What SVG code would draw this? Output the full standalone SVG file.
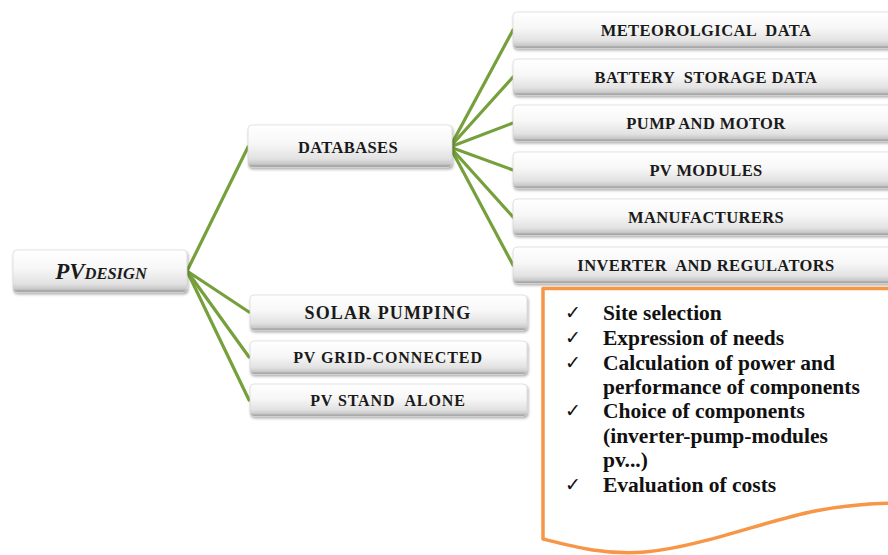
<svg xmlns="http://www.w3.org/2000/svg" width="888" height="555" viewBox="0 0 888 555">
<defs>
<linearGradient id="boxg" x1="0" y1="0" x2="0" y2="1">
<stop offset="0" stop-color="#ffffff"/>
<stop offset="0.45" stop-color="#f7f7f7"/>
<stop offset="0.8" stop-color="#e2e2e2"/>
<stop offset="0.93" stop-color="#c8c8c8"/>
<stop offset="1" stop-color="#8c8c8c"/>
</linearGradient>
<filter id="sh" x="-5%" y="-20%" width="110%" height="150%">
<feGaussianBlur in="SourceAlpha" stdDeviation="1.5"/>
<feOffset dx="1" dy="2" result="b"/>
<feComponentTransfer><feFuncA type="linear" slope="0.35"/></feComponentTransfer>
<feMerge><feMergeNode/><feMergeNode in="SourceGraphic"/></feMerge>
</filter>
</defs>
<style>
.box{fill:url(#boxg);stroke:#d0d0d0;stroke-width:0.6;filter:url(#sh)}
.lbl{font-family:"Liberation Serif","Times New Roman",serif;font-weight:bold;fill:#1a1a1a;text-anchor:middle}
.s16{font-size:16.5px;letter-spacing:0.4px}
.s15{font-size:16px;letter-spacing:0.9px}
.s17{font-size:18px;letter-spacing:1.1px}
.con{stroke:#76a03c;stroke-width:3.2;fill:none;stroke-linecap:round}
.item{font-family:"Liberation Serif","Times New Roman",serif;font-weight:bold;font-size:21.5px;fill:#111}
.chk{font-family:"DejaVu Sans",sans-serif;font-size:19px;fill:#111}
</style>

<g id="connectors">
<line class="con" x1="187" y1="271" x2="248" y2="147"/>
<line class="con" x1="187" y1="271" x2="249" y2="312"/>
<line class="con" x1="187" y1="271" x2="249" y2="357"/>
<line class="con" x1="187" y1="271" x2="249" y2="400"/>
<line class="con" x1="450" y1="147" x2="513" y2="30"/>
<line class="con" x1="450" y1="147" x2="513" y2="77"/>
<line class="con" x1="450" y1="147" x2="513" y2="123"/>
<line class="con" x1="450" y1="147" x2="513" y2="170"/>
<line class="con" x1="450" y1="147" x2="513" y2="217"/>
<line class="con" x1="450" y1="147" x2="513" y2="265"/>
</g>

<g id="pvdesign">
<rect class="box" x="13" y="250" width="174" height="42" rx="4"/>
<text class="lbl" x="101" y="279" font-style="italic"><tspan font-size="23px">PV</tspan><tspan font-size="16.5px">DESIGN</tspan></text>
</g>
<g id="databases">
<rect class="box" x="248" y="125" width="204" height="42" rx="4"/>
<text class="lbl s16" x="348" y="153">DATABASES</text>
</g>
<g id="meteo">
<rect class="box" x="513" y="12" width="395" height="36" rx="4"/>
<text class="lbl s16" x="706" y="36" xml:space="preserve">METEOROLGICAL  DATA</text>
</g>
<g id="battery">
<rect class="box" x="513" y="59" width="395" height="36" rx="4"/>
<text class="lbl s16" x="706" y="83" xml:space="preserve">BATTERY  STORAGE DATA</text>
</g>
<g id="pump">
<rect class="box" x="513" y="105" width="395" height="36" rx="4"/>
<text class="lbl s16" x="706" y="129">PUMP AND MOTOR</text>
</g>
<g id="pvmodules">
<rect class="box" x="513" y="152" width="395" height="36" rx="4"/>
<text class="lbl s16" x="706" y="176">PV MODULES</text>
</g>
<g id="manufacturers">
<rect class="box" x="513" y="199" width="395" height="36" rx="4"/>
<text class="lbl s16" x="706" y="223">MANUFACTURERS</text>
</g>
<g id="inverter">
<rect class="box" x="513" y="247" width="395" height="36" rx="4"/>
<text class="lbl s16" x="706" y="271" xml:space="preserve">INVERTER  AND REGULATORS</text>
</g>
<g id="solar">
<rect class="box" x="250" y="295" width="277" height="35" rx="4"/>
<text class="lbl s17" x="388" y="319">SOLAR PUMPING</text>
</g>
<g id="grid">
<rect class="box" x="250" y="341" width="277" height="33" rx="4"/>
<text class="lbl s15" x="388" y="363">PV GRID-CONNECTED</text>
</g>
<g id="standalone">
<rect class="box" x="250" y="384" width="277" height="32" rx="4"/>
<text class="lbl s15" x="388" y="406" xml:space="preserve">PV STAND  ALONE</text>
</g>

<g id="notes">
<path d="M900,288.5 L543,288.5 L543,539 C575,547 605,555 645,552 C700,547 765,521 815,511 C845,505 870,503 900,503" fill="#ffffff" stroke="#f79646" stroke-width="3.5" stroke-linejoin="round"/>
<text class="chk" x="565" y="319">✓</text>
<text class="chk" x="565" y="344">✓</text>
<text class="chk" x="565" y="369">✓</text>
<text class="chk" x="565" y="417">✓</text>
<text class="chk" x="565" y="491">✓</text>
<text class="item" x="603" y="320">Site selection</text>
<text class="item" x="603" y="345">Expression of needs</text>
<text class="item" x="603" y="370">Calculation of power and</text>
<text class="item" x="603" y="394">performance of components</text>
<text class="item" x="603" y="418">Choice of components</text>
<text class="item" x="603" y="443">(inverter-pump-modules</text>
<text class="item" x="603" y="467">pv...)</text>
<text class="item" x="603" y="492">Evaluation of costs</text>
</g>
</svg>
